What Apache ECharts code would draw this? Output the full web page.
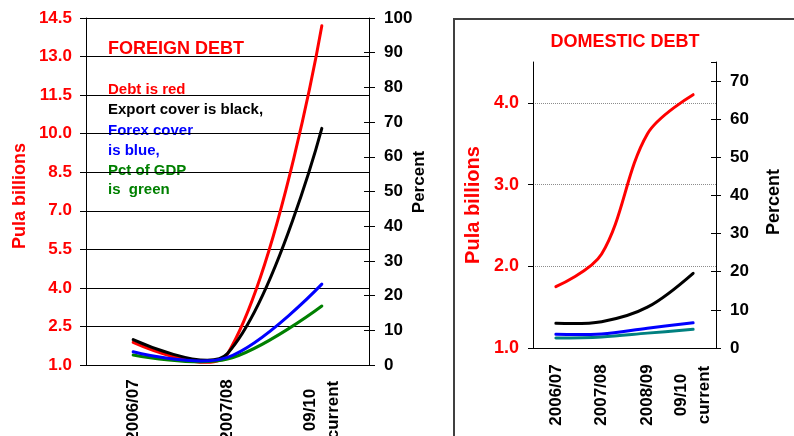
<!DOCTYPE html>
<html>
<head>
<meta charset="utf-8">
<script src="https://cdn.jsdelivr.net/npm/echarts@6/dist/echarts.min.js"></script>
<style>
  html, body { margin: 0; padding: 0; background: #fff; }
  #chart { width: 794px; height: 436px; }
</style>
</head>
<body>
<div id="chart"></div>
<script>
// ---- Foreign debt panel ----
const foreignYears = ['2006/07', '2007/08', '09/10\ncurrent'];
const foreignDebt = [1.88, 1.43, 14.2];          // Pula billions
const foreignExportCover = [7.3, 3.3, 68.2];     // percent
const foreignForexCover = [3.8, 2.2, 23.3];      // percent
const foreignPctGdp = [2.9, 1.7, 17.0];          // percent
const foreignBillionTicks = [1.0, 2.5, 4.0, 5.5, 7.0, 8.5, 10.0, 11.5, 13.0, 14.5];
const foreignPercentTicks = [0, 10, 20, 30, 40, 50, 60, 70, 80, 90, 100];

// ---- Domestic debt panel ----
const domesticYears = ['2006/07', '2007/08', '2008/09', '09/10\ncurrent'];
const domesticDebt = [1.75, 2.15, 3.62, 4.1];    // Pula billions
const domesticExportCover = [6.5, 6.9, 10.7, 19.6];
const domesticForexCover = [3.6, 3.7, 5.2, 6.6];
const domesticPctGdp = [2.6, 2.9, 3.9, 4.9];
const domesticBillionTicks = [1.0, 2.0, 3.0, 4.0];
const domesticBillionMax = 4.5;
const domesticPercentTicks = [0, 10, 20, 30, 40, 50, 60, 70];
const domesticPercentMax = 75;

const FAMILY = '"Liberation Sans", Arial, Helvetica, sans-serif';
const RED = '#ff0000';
const BLACK = '#000000';

function step(ticks) { return ticks[1] - ticks[0]; }

function label(color, size, margin, extra) {
  return Object.assign({
    color: color, fontSize: size, fontWeight: 'bold', fontFamily: FAMILY, margin: margin
  }, extra || {});
}

// Spreadsheet-style smoothed line: cubic Bezier through every point, with
// control arms along the neighbour chord, split by the adjacent segment lengths.
// The arms are not clamped, so a curve may swing past a point before turning.
function smoothPath(pts, s) {
  const n = pts.length;
  const before = [], after = [];
  for (let i = 0; i < n; i++) {
    if (i === 0 || i === n - 1) { before[i] = pts[i]; after[i] = pts[i]; continue; }
    const a = pts[i - 1], p = pts[i], b = pts[i + 1];
    const vx = b[0] - a[0], vy = b[1] - a[1];
    const l0 = Math.hypot(p[0] - a[0], p[1] - a[1]);
    const l1 = Math.hypot(b[0] - p[0], b[1] - p[1]);
    const r = l1 / (l0 + l1);
    before[i] = [p[0] - vx * s * (1 - r), p[1] - vy * s * (1 - r)];
    after[i] = [p[0] + vx * s * r, p[1] + vy * s * r];
  }
  let d = 'M' + pts[0][0] + ' ' + pts[0][1];
  for (let i = 1; i < n; i++) {
    d += ' C' + after[i - 1][0] + ' ' + after[i - 1][1] + ' ' +
      before[i][0] + ' ' + before[i][1] + ' ' + pts[i][0] + ' ' + pts[i][1];
  }
  return d;
}

function curve(xIdx, yIdx, values, color, s) {
  return {
    type: 'custom', coordinateSystem: 'cartesian2d',
    xAxisIndex: xIdx, yAxisIndex: yIdx, silent: true,
    data: values.map((v, i) => [i, v]),
    encode: { x: 0, y: 1 },
    renderItem: function (params, api) {
      if (params.dataIndex !== 0) return null;
      const pts = values.map((v, i) => api.coord([i, v]));
      return {
        type: 'path',
        shape: { pathData: smoothPath(pts, s) },
        style: { fill: 'none', stroke: color, lineWidth: 3, lineCap: 'round', lineJoin: 'round' }
      };
    }
  };
}

function text(x, y, str, color, size, opts) {
  opts = opts || {};
  return {
    type: 'text', x: x, y: y, rotation: opts.rotation || 0, z: opts.z == null ? 10 : opts.z,
    silent: true,
    style: {
      text: str, fill: color,
      font: 'bold ' + size + 'px ' + FAMILY,
      textAlign: opts.align || 'left', textVerticalAlign: 'middle',
      align: opts.align || 'left', verticalAlign: 'middle'
    }
  };
}

const chart = echarts.init(document.getElementById('chart'), null, { renderer: 'canvas' });

const xLabel = { rotate: 90, align: 'center', interval: 0, lineHeight: 23 };

chart.setOption({
  animation: false,
  backgroundColor: '#ffffff',
  grid: [
    { left: 86, top: 18, width: 283, height: 347, outerBoundsMode: 'none', containLabel: false },
    { left: 533, top: 62, width: 183, height: 286, outerBoundsMode: 'none', containLabel: false }
  ],
  xAxis: [
    {
      gridIndex: 0, type: 'category', data: foreignYears, boundaryGap: true,
      axisLine: { lineStyle: { color: BLACK, width: 1 } },
      axisTick: { length: 6, lineStyle: { color: BLACK } },
      axisLabel: label(BLACK, 17, 45, xLabel)
    },
    {
      gridIndex: 1, type: 'category', data: domesticYears, boundaryGap: true,
      axisLine: { lineStyle: { color: BLACK, width: 1 } },
      axisTick: { length: 5, lineStyle: { color: BLACK } },
      axisLabel: label(BLACK, 17, 47, xLabel)
    },
    {
      gridIndex: 1, type: 'category', data: domesticYears, position: 'top',
      axisLine: { lineStyle: { color: BLACK, width: 1 } },
      axisTick: { show: false }, axisLabel: { show: false }, splitLine: { show: false }
    }
  ],
  yAxis: [
    {
      gridIndex: 0, type: 'value', position: 'left',
      min: foreignBillionTicks[0], max: foreignBillionTicks[foreignBillionTicks.length - 1],
      interval: step(foreignBillionTicks),
      axisLine: { show: true, lineStyle: { color: BLACK } },
      axisTick: { show: true, length: 6, lineStyle: { color: BLACK } },
      axisLabel: label(RED, 17, 14, { formatter: v => v.toFixed(1) }),
      splitLine: { show: true, lineStyle: { color: BLACK, width: 1 } }
    },
    {
      gridIndex: 0, type: 'value', position: 'right',
      min: foreignPercentTicks[0], max: foreignPercentTicks[foreignPercentTicks.length - 1],
      interval: step(foreignPercentTicks),
      axisLine: { show: true, lineStyle: { color: BLACK } },
      axisTick: { show: true, length: 6, lineStyle: { color: BLACK } },
      axisLabel: label(BLACK, 17, 15),
      splitLine: { show: false }
    },
    {
      gridIndex: 0, type: 'value', position: 'right',
      min: foreignPercentTicks[0], max: foreignPercentTicks[foreignPercentTicks.length - 1],
      interval: step(foreignPercentTicks),
      axisLine: { show: false },
      axisTick: { show: true, inside: true, length: 5, lineStyle: { color: BLACK } },
      axisLabel: { show: false }, splitLine: { show: false }
    },
    {
      gridIndex: 1, type: 'value', position: 'left',
      min: domesticBillionTicks[0], max: domesticBillionMax,
      interval: step(domesticBillionTicks),
      axisLine: { show: true, lineStyle: { color: BLACK } },
      axisTick: { show: true, length: 5, lineStyle: { color: BLACK } },
      axisLabel: label(RED, 18, 14, { formatter: v => v.toFixed(1), showMaxLabel: false }),
      splitLine: {
        show: true, showMinLine: false, showMaxLine: false,
        lineStyle: { color: '#8c8c8c', width: 1, type: [1, 1] }
      }
    },
    {
      gridIndex: 1, type: 'value', position: 'right',
      min: domesticPercentTicks[0], max: domesticPercentMax,
      interval: step(domesticPercentTicks),
      axisLine: { show: true, lineStyle: { color: BLACK } },
      axisTick: { show: true, length: 5, lineStyle: { color: BLACK } },
      axisLabel: label(BLACK, 17, 14, { showMaxLabel: false }),
      splitLine: { show: false }
    },
    {
      gridIndex: 1, type: 'value', position: 'right',
      min: domesticPercentTicks[0], max: domesticPercentMax,
      interval: step(domesticPercentTicks),
      axisLine: { show: false },
      axisTick: { show: true, inside: true, length: 5, lineStyle: { color: BLACK } },
      axisLabel: { show: false }, splitLine: { show: false }
    }
  ],
  series: [
    curve(0, 0, foreignDebt, RED, 0.35),
    curve(0, 1, foreignExportCover, BLACK, 0.35),
    curve(0, 1, foreignPctGdp, '#008000', 0.35),
    curve(0, 1, foreignForexCover, '#0000ff', 0.35),
    curve(1, 3, domesticDebt, RED, 0.35),
    curve(1, 4, domesticExportCover, BLACK, 0.35),
    curve(1, 4, domesticPctGdp, '#008080', 0.35),
    curve(1, 4, domesticForexCover, '#0000ff', 0.35)
  ],
  graphic: {
    elements: [
      // foreign panel headings and colour key
      text(108, 49, 'FOREIGN DEBT', RED, 18, { z: -1 }),
      text(108, 90, 'Debt is red', RED, 15, { z: -1 }),
      text(108, 110, 'Export cover is black,', BLACK, 15, { z: -1 }),
      text(108, 131, 'Forex cover', '#0000ff', 15, { z: -1 }),
      text(108, 151, 'is blue,', '#0000ff', 15, { z: -1 }),
      text(108, 171, 'Pct of GDP', '#008000', 15, { z: -1 }),
      text(108, 190, 'is  green', '#008000', 15, { z: -1 }),
      text(20, 196, 'Pula billions', RED, 18, { rotation: Math.PI / 2, align: 'center' }),
      text(419, 182, 'Percent', BLACK, 17, { rotation: Math.PI / 2, align: 'center' }),
      // domestic panel frame and headings
      {
        type: 'rect', x: 454, y: 19, silent: true, z: -2,
        shape: { width: 400, height: 500 },
        style: { fill: 'none', stroke: '#404040', lineWidth: 2 }
      },
      text(625, 42, 'DOMESTIC DEBT', RED, 18, { align: 'center' }),
      text(473, 205, 'Pula billions', RED, 20, { rotation: Math.PI / 2, align: 'center' }),
      text(774, 202, 'Percent', BLACK, 18, { rotation: Math.PI / 2, align: 'center' })
    ]
  }
});
</script>
</body>
</html>
